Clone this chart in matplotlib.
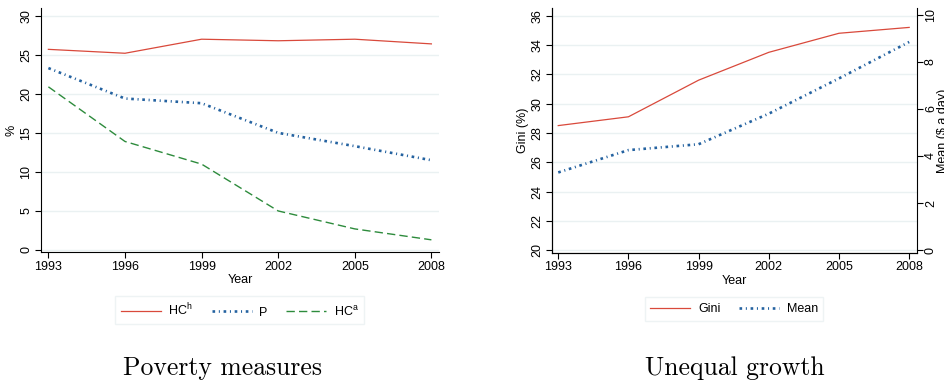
import matplotlib
matplotlib.use("Agg")
import matplotlib.pyplot as plt

years = [1993, 1996, 1999, 2002, 2005, 2008]
hc_h = [25.7, 25.2, 27.0, 26.8, 27.0, 26.4]
p_vals = [23.3, 19.4, 18.8, 15.0, 13.3, 11.5]
hc_a = [20.9, 13.9, 11.0, 5.0, 2.7, 1.3]
gini = [28.5, 29.1, 31.6, 33.5, 34.8, 35.2]
mean_inc = [3.3, 4.25, 4.5, 5.8, 7.3, 8.85]

left_yticks = [0, 5, 10, 15, 20, 25, 30]
gini_yticks = [20, 22, 24, 26, 28, 30, 32, 34, 36]
mean_yticks = [0, 2, 4, 6, 8, 10]

plt.rcParams['font.family'] = ['Liberation Sans', 'DejaVu Sans']
plt.rcParams['mathtext.fontset'] = 'custom'
plt.rcParams['mathtext.rm'] = 'Liberation Sans'

RED = '#d9493b'
BLUE = '#2462a0'
GREEN = '#2d8b3c'
GRID = '#eaf1f2'
FS = 9

fig = plt.figure(figsize=(9.45, 3.8), dpi=100)

def style(ax, yticks):
    ax.set_xticks(years)
    ax.set_xticklabels([str(y) for y in years], fontsize=FS)
    ax.set_yticks(yticks)
    ax.set_yticklabels([str(t) for t in yticks], fontsize=FS, rotation=90, va='center')
    ax.grid(axis='y', color=GRID, linewidth=1.0)
    ax.set_axisbelow(True)
    ax.spines['top'].set_visible(False)
    ax.spines['right'].set_visible(False)
    ax.tick_params(length=4, width=0.8, pad=2)
    ax.set_xlabel('Year', fontsize=FS, labelpad=1)

blue_ls = (0, (1.0, 1.4, 0.4, 1.4))

leg_kw = dict(loc='upper center', bbox_to_anchor=(0.5, -0.155), fontsize=FS,
              frameon=True, fancybox=False, handlelength=3.2, columnspacing=1.5,
              borderpad=0.45, handletextpad=0.6)

ax1 = fig.add_axes([0.0431, 0.336, 0.4215, 0.643])
ax1.plot(years, hc_h, color=RED, lw=0.9, label=r'HC$^{\mathrm{h}}$')
ax1.plot(years, p_vals, color=BLUE, lw=1.9, linestyle=blue_ls, label='P')
ax1.plot(years, hc_a, color=GREEN, lw=1.0, linestyle=(0, (6, 3)), label=r'HC$^{\mathrm{a}}$')
ax1.set_xlim(1992.7, 2008.3)
ax1.set_ylim(-0.3, 31.0)
style(ax1, left_yticks)
ax1.set_ylabel('%', fontsize=FS, labelpad=2)
leg1 = ax1.legend(ncol=3, **leg_kw)
leg1.get_frame().set_edgecolor(GRID)
leg1.get_frame().set_linewidth(1.0)

ax2 = fig.add_axes([0.5838, 0.334, 0.3862, 0.644])
l1, = ax2.plot(years, gini, color=RED, lw=0.9, label='Gini')
ax2.set_xlim(1992.72, 2008.32)
ax2.set_ylim(19.8, 36.5)
style(ax2, gini_yticks)
ax2.set_ylabel('Gini (%)', fontsize=FS, labelpad=2)
ax3 = ax2.twinx()
l2, = ax3.plot(years, mean_inc, color=BLUE, lw=1.9, linestyle=blue_ls, label='Mean')
ax3.set_ylim(-0.13, 10.28)
ax3.set_yticks(mean_yticks)
ax3.set_yticklabels([str(t) for t in mean_yticks], fontsize=FS, rotation=90, va='center')
ax3.spines['top'].set_visible(False)
ax3.tick_params(length=4, width=0.8, pad=2)
ax3.set_ylabel('Mean ($ a day)', fontsize=FS, labelpad=0, rotation=90)
leg2 = ax2.legend(handles=[l1, l2], ncol=2, **leg_kw)
leg2.get_frame().set_edgecolor(GRID)
leg2.get_frame().set_linewidth(1.0)

fig.text(223 / 945, 1 - 368 / 380, 'Poverty measures', family='cmr10', fontsize=18.5,
         ha='center', va='center')
fig.text(735 / 945, 1 - 368 / 380, 'Unequal growth', family='cmr10', fontsize=18.5,
         ha='center', va='center')

fig.savefig('out.png', dpi=100)
